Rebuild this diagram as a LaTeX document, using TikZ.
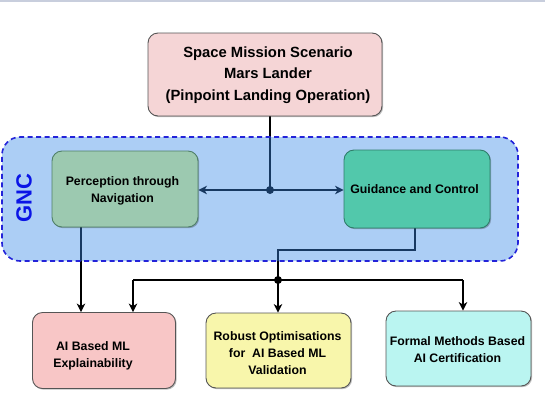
\documentclass[tikz,border=0pt]{standalone}
\usepackage{fontspec}
\setmainfont{Liberation Sans}
\usetikzlibrary{arrows.meta,shadows}
\definecolor{topfill}{HTML}{F5D5D6}
\definecolor{gncfill}{HTML}{3A8AE8}
\definecolor{gncdash}{HTML}{2323D9}
\definecolor{gnctext}{HTML}{0A14E6}
\definecolor{percfill}{HTML}{9CC9B0}
\definecolor{percline}{HTML}{4F7F68}
\definecolor{guidfill}{HTML}{52C8AB}
\definecolor{guidline}{HTML}{2F7D6A}
\definecolor{bafill}{HTML}{F8C6C6}
\definecolor{bbfill}{HTML}{F8F6AB}
\definecolor{bcfill}{HTML}{BAF5F1}
\definecolor{boxline}{HTML}{555555}
\definecolor{topline}{HTML}{C8CEDD}
\pgfdeclarelayer{bg}
\pgfsetlayers{bg,main}
\tikzset{
  boxshape/.style={draw=boxline, line width=0.9pt, rounded corners=10pt, inner sep=0pt,
    drop shadow={shadow xshift=1.2pt, shadow yshift=-1.2pt, fill=black, opacity=0.25}},
  txt/.style={font=\bfseries\fontsize{12.3}{17}\selectfont, align=center, inner sep=0pt},
  bigtxt/.style={font=\bfseries\fontsize{14.8}{21.5}\selectfont, align=center, inner sep=0pt},
  conn/.style={draw=black, line width=1.2pt},
  arr/.style={conn, -{Stealth[length=8.5pt,width=8.5pt,inset=2.5pt]}},
  jdot/.style={circle, fill=black, inner sep=0pt, minimum size=8pt}
}
\begin{document}
\begin{tikzpicture}[x=1pt,y=-1pt]
\useasboundingbox (0,0) rectangle (545,410);
\fill[topline] (0,0) rectangle (545,1.6);
% container
\node[draw=gncdash, line width=1.6pt, dash pattern=on 5pt off 3.5pt, fill=gncfill, fill opacity=0.42,
      rounded corners=18pt, minimum width=516pt, minimum height=124pt, inner sep=0pt] (gnc) at (260,199) {};
\node[font=\bfseries\fontsize{22}{22}\selectfont, text=gnctext, rotate=90, inner sep=0pt] (gnclabel) at (24,198) {GNC};
% boxes
\node[boxshape, fill=topfill, minimum width=234pt, minimum height=83pt] (top) at (265,74.5) {};
\node[bigtxt] (toptxt) at (268,75) {Space Mission Scenario\\Mars Lander\\(Pinpoint Landing Operation)};
\node[boxshape, fill=percfill, draw=percline, minimum width=146pt, minimum height=76pt] (perc) at (125,189) {};
\node[txt] (perctxt) at (122.5,190.5) {Perception through\\Navigation};
\node[boxshape, fill=guidfill, draw=guidline, minimum width=146pt, minimum height=78pt] (guid) at (417,189) {};
\node[txt] (guidtxt) at (414.5,189) {Guidance and Control};
\node[boxshape, fill=bafill, minimum width=143pt, minimum height=76pt] (ba) at (104,350.5) {};
\node[txt] (batxt) at (93,355.5) {AI Based ML\\Explainability};
\node[boxshape, fill=bbfill, minimum width=145pt, minimum height=75pt] (bb) at (278.5,350.5) {};
\node[txt] (bbtxt) at (277.5,353) {Robust Optimisations\\for\ \ AI Based ML\\Validation};
\node[boxshape, fill=bcfill, minimum width=145pt, minimum height=75pt] (bc) at (458.5,348.5) {};
\node[txt] (bctxt) at (457.5,349.5) {Formal Methods Based\\AI Certification};
% junctions
\coordinate (d1) at (270,190);
\coordinate (d2) at (278,280);
\coordinate (pa) at (81,0);
\coordinate (ga) at (415,250);
\coordinate (la) at (133,280);
\coordinate (ra) at (463,280);
\begin{pgfonlayer}{bg}
\draw[conn] (d1 |- top.south) -- (d1);
\draw[arr] (d1) -- (perc.east |- d1);
\draw[arr] (d1) -- (guid.west |- d1);
\node[jdot] (dot1) at (d1) {};
\draw[arr] (pa |- perc.south) -- (pa |- ba.north);
\draw[conn] (ga |- guid.south) -- (ga) -- (d2 |- ga) -- (d2);
\draw[conn] (la) -- (ra);
\draw[arr] (la) -- (la |- ba.north);
\draw[arr] (d2) -- (d2 |- bb.north);
\draw[arr] (ra) -- (ra |- bc.north);
\node[jdot] (dot2) at (d2) {};
\end{pgfonlayer}
\end{tikzpicture}
\end{document}
